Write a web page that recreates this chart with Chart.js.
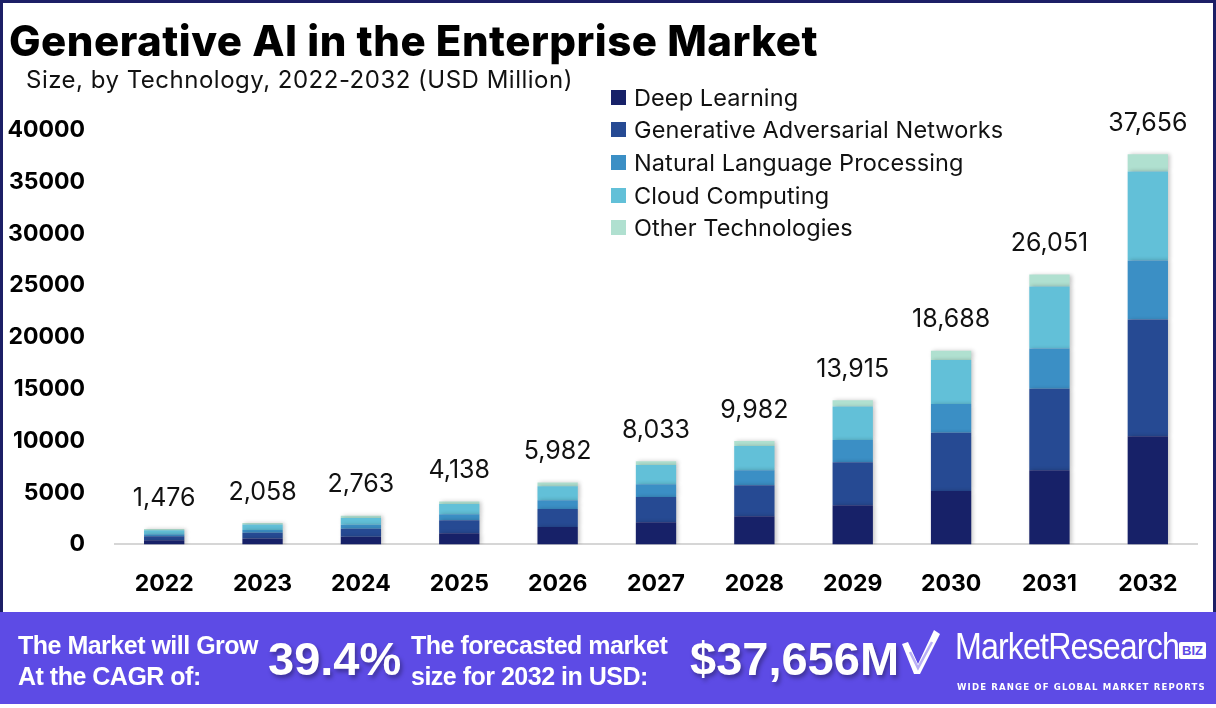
<!DOCTYPE html>
<html>
<head>
<meta charset="utf-8">
<script src="https://cdn.jsdelivr.net/npm/chart.js@4.4.1/dist/chart.umd.min.js"></script>
<style>
  html, body { margin: 0; padding: 0; background: #fff; }
  #wrap { position: relative; width: 1216px; height: 708px; overflow: hidden; font-family: Inter, "Noto Sans", sans-serif; }
  #frame { position: absolute; left: 0; top: 0; width: 1210px; height: 609px; border: 3px solid #1c1f66; border-bottom: none; }
  #chartBox { position: absolute; left: 0; top: 0; width: 1216px; height: 638px; }
  #title { position: absolute; left: 9px; top: 15px; font-size: 42px; font-weight: 800; color: #000; letter-spacing: 0.5px; white-space: nowrap; }
  #subtitle { position: absolute; left: 26px; top: 65px; font-size: 24px; letter-spacing: 0.5px; color: #111; white-space: nowrap; }
  #legend { position: absolute; left: 611px; top: 81px; }
  .item { height: 32.6px; font-size: 23.5px; letter-spacing: 0.1px; color: #111; display: flex; align-items: center; white-space: nowrap; }
  .sw { width: 15px; height: 15px; margin-right: 8px; }
  #banner { position: absolute; left: 0; top: 612px; width: 1216px; height: 92px; background: #5d4be5; color: #fff; font-family: "Liberation Sans", sans-serif; font-weight: bold; }
  .small { position: absolute; font-size: 25px; line-height: 31px; letter-spacing: -0.5px; white-space: nowrap; }
  .big { position: absolute; font-size: 47px; line-height: 50px; text-shadow: 2px 3px 4px rgba(0,0,0,0.35); white-space: nowrap; }
  #logo { position: absolute; left: 955px; top: 14px; font-weight: normal; font-size: 37px; letter-spacing: -1px; transform: scaleX(0.87); transform-origin: left top; white-space: nowrap; }
  #biz { position: absolute; left: 1179px; top: 30px; font-size: 13px; background: #fff; color: #5d4be5; padding: 1px 3px; border-radius: 2px; }
  #tag { position: absolute; left: 957px; top: 70px; font-size: 9px; letter-spacing: 1.2px; transform: scaleX(0.95); transform-origin: left top; white-space: nowrap; font-family: "DejaVu Sans", sans-serif; }
</style>
</head>
<body>
<div id="wrap">
  <div id="chartBox"><canvas id="chart"></canvas></div>
  <div id="frame"></div>
  <div id="title">Generative AI in the Enterprise Market</div>
  <div id="subtitle">Size, by Technology, 2022-2032 (USD Million)</div>
  <div id="legend"></div>
  <div id="banner">
    <div class="small" style="left:18px; top:18px;">The Market will Grow<br>At the CAGR of:</div>
    <div class="big" style="left:268px; top:22px;">39.4%</div>
    <div class="small" style="left:411px; top:18px;">The forecasted market<br>size for 2032 in USD:</div>
    <div class="big" style="left:690px; top:22px;">$37,656M</div>
    <svg style="position:absolute; left:900px; top:16px;" width="42" height="50" viewBox="0 0 42 50">
      <path d="M2 16 L8 14 L18 36 L34 2 L40 6 L20 46 L14 46 Z" fill="#fff"/>
      <path d="M10 24 L18 40 L32 14" fill="none" stroke="#b9b0f5" stroke-width="2.5"/>
    </svg>
    <div id="logo">MarketResearch</div>
    <div id="biz">BIZ</div>
    <div id="tag">WIDE RANGE OF GLOBAL MARKET REPORTS</div>
  </div>
</div>
<script>
// categorias e valores (USD Million)
const years = ['2022', '2023', '2024', '2025', '2026', '2027', '2028', '2029', '2030', '2031', '2032'];
const deepLearning = [400, 560, 750, 1070, 1680, 2130, 2710, 3780, 5160, 7160, 10450];
const ganValues = [380, 560, 770, 1250, 1740, 2450, 3000, 4160, 5610, 7870, 11256];
const nlpValues = [190, 280, 380, 580, 840, 1220, 1450, 2130, 2780, 3871, 5700];
const cloudValues = [400, 510, 660, 1000, 1342, 1853, 2332, 3230, 4248, 6000, 8600];
const otherValues = [106, 148, 203, 238, 380, 380, 490, 615, 890, 1150, 1650];
const yTicks = [0, 5000, 10000, 15000, 20000, 25000, 30000, 35000, 40000];

const seriesNames = ['Deep Learning', 'Generative Adversarial Networks', 'Natural Language Processing', 'Cloud Computing', 'Other Technologies'];
const seriesColors = ['#172168', '#264a93', '#3b8fc5', '#62c0d8', '#b0e0d0'];
const seriesData = [deepLearning, ganValues, nlpValues, cloudValues, otherValues];

// legenda em HTML
const legend = document.getElementById('legend');
seriesNames.forEach((name, i) => {
  const row = document.createElement('div');
  row.className = 'item';
  row.innerHTML = `<span class="sw" style="background:${seriesColors[i]}"></span>${name}`;
  legend.appendChild(row);
});

// totais acima de cada barra
const totalsPlugin = {
  id: 'totals',
  afterDatasetsDraw(chart) {
    const ctx = chart.ctx;
    const last = chart.getDatasetMeta(seriesData.length - 1);
    ctx.save();
    ctx.font = '25px Inter, "Noto Sans", sans-serif';
    ctx.fillStyle = '#111';
    ctx.textAlign = 'center';
    ctx.textBaseline = 'middle';
    years.forEach((y, i) => {
      const total = seriesData.reduce((s, arr) => s + arr[i], 0);
      const bar = last.data[i];
      ctx.fillText(total.toLocaleString('en-US'), bar.x, bar.y - 31);
    });
    ctx.restore();
  }
};

// sombra leve nas barras
const shadowPlugin = {
  id: 'barShadow',
  beforeDatasetsDraw(chart) {
    const ctx = chart.ctx;
    ctx.save();
    ctx.shadowColor = 'rgba(0,0,0,0.22)';
    ctx.shadowBlur = 4;
    ctx.shadowOffsetX = 2;
    ctx.shadowOffsetY = 0;
  },
  afterDatasetsDraw(chart) {
    chart.ctx.restore();
  }
};

const ctx = document.getElementById('chart').getContext('2d');
new Chart(ctx, {
  type: 'bar',
  data: {
    labels: years,
    datasets: seriesNames.map((name, i) => ({
      label: name,
      data: seriesData[i],
      backgroundColor: seriesColors[i],
      barPercentage: 0.41,
      categoryPercentage: 1.0
    }))
  },
  options: {
    responsive: true,
    maintainAspectRatio: false,
    animation: false,
    layout: { padding: { top: 130, right: 19, bottom: 14, left: 0 } },
    plugins: { legend: { display: false }, tooltip: { enabled: false } },
    scales: {
      x: {
        stacked: true,
        grid: { display: false, drawTicks: false },
        border: { display: true, color: '#d6d6d6', width: 2 },
        ticks: { padding: 26, color: '#000', font: { size: 23, weight: 'bold', family: 'Inter, "Noto Sans", sans-serif' } }
      },
      y: {
        stacked: true,
        min: 0,
        max: 40000,
        afterBuildTicks: scale => { scale.ticks = yTicks.map(v => ({ value: v })); },
        afterFit: scale => { scale.width = 115; },
        grid: { display: false, drawTicks: false },
        border: { display: false },
        ticks: { padding: 30, color: '#000', callback: v => String(v), font: { size: 23, weight: 'bold', family: 'Inter, "Noto Sans", sans-serif' } }
      }
    }
  },
  plugins: [shadowPlugin, totalsPlugin]
});
</script>
</body>
</html>
